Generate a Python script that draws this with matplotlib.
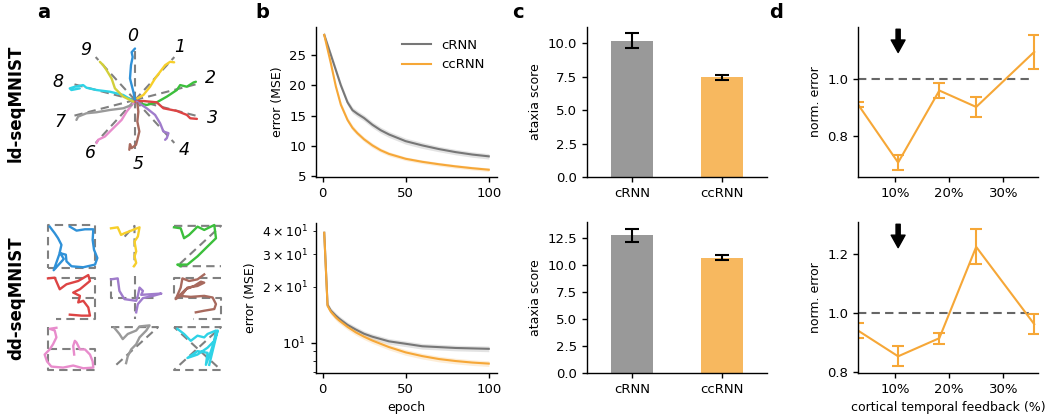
import numpy as np
import matplotlib
matplotlib.use("Agg")
import matplotlib.pyplot as plt
from matplotlib.ticker import FuncFormatter

plt.rcParams["font.family"] = ["DejaVu Sans"]
plt.rcParams["font.size"] = 9
plt.rcParams["axes.linewidth"] = 1.0

GRAY = "#777777"
ORANGE = "#F6A737"
DASH_GRAY = "#808080"

# ---------------- data ----------------
models = ["cRNN", "ccRNN"]

# training curves, ld-seqMNIST
epochs_ld = [1, 5, 8, 11, 15, 18, 21, 25, 30, 35, 40, 50, 60, 70, 80, 90, 100]
crnn_ld = [28.3, 25.0, 22.5, 20.0, 17.2, 15.9, 15.3, 14.6, 13.5, 12.6, 11.9, 10.8, 10.1, 9.5, 9.0, 8.6, 8.3]
ccrnn_ld = [28.3, 23.6, 19.8, 16.8, 14.3, 13.0, 12.1, 11.1, 10.1, 9.3, 8.7, 7.9, 7.4, 7.0, 6.65, 6.35, 6.1]
crnn_ld_sd = [0.5, 0.5, 0.5, 0.5, 0.5, 0.5, 0.5, 0.5, 0.5, 0.5, 0.5, 0.5, 0.5, 0.45, 0.45, 0.45, 0.45]
ccrnn_ld_sd = [0.5, 0.5, 0.5, 0.5, 0.45, 0.45, 0.4, 0.4, 0.4, 0.35, 0.35, 0.3, 0.3, 0.3, 0.3, 0.3, 0.3]

# training curves, dd-seqMNIST
epochs_dd = [1, 3, 5, 8, 10, 15, 20, 25, 30, 40, 50, 60, 70, 80, 90, 100]
crnn_dd = [39.0, 16.0, 14.9, 14.0, 13.5, 12.5, 11.8, 11.2, 10.8, 10.2, 9.9, 9.6, 9.5, 9.4, 9.35, 9.3]
ccrnn_dd = [39.0, 15.8, 14.7, 13.7, 13.2, 12.2, 11.4, 10.8, 10.3, 9.5, 8.9, 8.5, 8.2, 8.0, 7.85, 7.75]
dd_rel_sd = 0.035

# ataxia scores (mean, error)
ataxia_ld = [10.2, 7.45]
ataxia_ld_err = [0.55, 0.22]
ataxia_dd = [12.75, 10.7]
ataxia_dd_err = [0.58, 0.25]

# normalised error vs. fraction of cortical temporal feedback
feedback_pct = [3.2, 10.6, 18.2, 25.0, 35.7]
norm_err_ld = [0.911, 0.706, 0.960, 0.902, 1.096]
norm_err_ld_sd = [0.009, 0.028, 0.028, 0.036, 0.061]
norm_err_dd = [0.940, 0.852, 0.914, 1.226, 0.962]
norm_err_dd_sd = [0.027, 0.034, 0.019, 0.060, 0.034]
best_pct = 10.6

# ld-seqMNIST: digit trajectories (unit radius, y stretched)
digit_colors = ["#2f91d8", "#f7cf2a", "#3cbf3c", "#dd4444", "#a07ccc",
                "#a86a5e", "#e88ccc", "#9a9a9a", "#2fd3e6", "#d2cf3a"]
digit_angles = [90, 54, 18, -18, -54, -90, -126, -162, 162, 126]
ld_traj = [
    [(0, 0), (-0.025, 0.156), (-0.075, 0.406), (-0.06, 0.656), (-0.035, 0.81), (-0.05, 0.9), (0.0, 0.97)],
    [(0.035, 0.03), (0.125, 0.094), (0.225, 0.25), (0.3, 0.406), (0.375, 0.531), (0.45, 0.656), (0.525, 0.72), (0.585, 0.71)],
    [(0.05, -0.06), (0.175, -0.094), (0.325, -0.044), (0.475, 0.063), (0.625, 0.188), (0.675, 0.281), (0.775, 0.25), (0.875, 0.331), (0.91, 0.344)],
    [(0.0, -0.03), (0.125, -0.019), (0.325, -0.044), (0.425, -0.156), (0.625, -0.206), (0.775, -0.281), (0.825, -0.344), (0.925, -0.356)],
    [(0.025, -0.03), (0.175, -0.156), (0.3, -0.281), (0.375, -0.438), (0.425, -0.594), (0.5, -0.625), (0.475, -0.719), (0.45, -0.75)],
    [(0.035, -0.06), (0.05, -0.219), (0.035, -0.406), (0.065, -0.594), (0.035, -0.75), (0.015, -0.844), (-0.05, -0.906), (-0.075, -0.831), (-0.085, -0.938)],
    [(-0.025, -0.06), (-0.125, -0.219), (-0.2, -0.375), (-0.3, -0.5), (-0.375, -0.594), (-0.45, -0.688), (-0.55, -0.75), (-0.575, -0.813)],
    [(-0.05, -0.094), (-0.175, -0.156), (-0.375, -0.188), (-0.575, -0.231), (-0.725, -0.25), (-0.85, -0.313), (-0.875, -0.375)],
    [(-0.05, 0.0), (-0.175, 0.094), (-0.375, 0.156), (-0.575, 0.188), (-0.725, 0.231), (-0.775, 0.281), (-0.9, 0.25), (-0.975, 0.219), (-0.95, 0.188), (-0.825, 0.219)],
    [(-0.025, -0.03), (-0.175, 0.063), (-0.3, 0.219), (-0.35, 0.406), (-0.425, 0.563), (-0.475, 0.656), (-0.525, 0.719)],
]

# dd-seqMNIST: target strokes and drawn trajectories per digit (unit cell)
dd_targets = [
    [[(0, 0), (1, 0), (1, 1), (0, 1), (0, 0)]],
    [[(0.29, 0.73), (0.5, 0.98), (0.5, 0.04)]],
    [[(0, 0.98), (1, 0.98), (0.07, 0.04), (1, 0.04)]],
    [[(0, 0.96), (1, 0.96), (1, 0.0), (0.18, 0.0)], [(0.5, 0.48), (1, 0.48)]],
    [[(0, 0.96), (0, 0.48), (1, 0.48)], [(0.5, 1.0), (0.5, 0.0)]],
    [[(1, 0.96), (0, 0.96), (0, 0.48), (1, 0.48), (1, 0.0), (0.4, 0.0)]],
    [[(0, 1.0), (0, 0.0), (1, 0.0), (1, 0.5), (0, 0.5)]],
    [[(0, 1.0), (1, 1.0), (0.07, 0.08)]],
    [[(0, 1.0), (1, 1.0), (0, 0.0), (1, 0.0), (0, 1.0)]],
]
dd_traj = [
    [(0.464, 0.962), (0.607, 0.869), (0.786, 0.9), (0.964, 0.9), (0.95, 0.654), (0.979, 0.423), (1.05, 0.231), (1.0, 0.077),
     (0.75, 0.015), (0.5, 0.038), (0.393, 0.154), (0.379, 0.308), (0.25, 0.346), (0.121, -0.054), (0.336, 0.208),
     (0.25, 0.362), (0.286, 0.538), (0.214, 0.692), (0.143, 0.808), (0.036, 0.962)],
    [(0.0, 0.923), (0.143, 0.946), (0.214, 0.769), (0.286, 0.808), (0.379, 0.846), (0.5, 0.9), (0.607, 0.946), (0.571, 0.731),
     (0.5, 0.615), (0.536, 0.385), (0.5, 0.269), (0.536, 0.115), (0.486, 0.038)],
    [(0.0, 0.946), (0.143, 0.923), (0.214, 0.692), (0.321, 0.769), (0.5, 0.962), (0.643, 0.885), (0.857, 1.0), (0.893, 0.692),
     (0.714, 0.5), (0.5, 0.269), (0.286, 0.077), (0.071, 0.077), (0.143, 0.038)],
    [(0.0, 0.946), (0.143, 0.962), (0.25, 0.692), (0.393, 0.808), (0.643, 0.885), (0.857, 1.023), (0.893, 0.885), (0.679, 0.692),
     (0.536, 0.615), (0.679, 0.538), (0.643, 0.385), (0.75, 0.423), (0.857, 0.269), (0.893, 0.077), (0.714, 0.077), (0.464, 0.1)],
    [(0.0, 0.923), (0.143, 0.946), (0.179, 0.654), (0.286, 0.462), (0.536, 0.423), (0.571, 0.538), (0.607, 0.731), (0.679, 0.654),
     (0.643, 0.562), (1.071, 0.592), (0.893, 0.538), (0.679, 0.485), (0.571, 0.346), (0.536, 0.154)],
    [(0.643, 1.038), (0.5, 0.923), (0.321, 0.885), (0.179, 0.946), (0.143, 0.731), (0.036, 0.462), (0.179, 0.577), (0.286, 0.731),
     (0.5, 0.769), (0.643, 0.846), (0.571, 0.869), (0.429, 0.769), (0.25, 0.692), (0.107, 0.538), (0.357, 0.515), (0.643, 0.538),
     (0.821, 0.5), (0.893, 0.346), (0.857, 0.231), (0.643, 0.192), (0.464, 0.154)],
    [(0.179, 0.984), (0.036, 0.96), (0.143, 0.92), (0.179, 0.76), (0.107, 0.6), (0.036, 0.48), (-0.071, 0.36), (-0.021, 0.2),
     (0.071, 0.08), (0.321, 0.056), (0.536, 0.104), (0.75, 0.04), (0.964, 0.056), (0.95, 0.2), (0.893, 0.36), (0.786, 0.48),
     (0.679, 0.48), (0.607, 0.64), (0.571, 0.68), (0.536, 0.56), (0.557, 0.36)],
    [(0.071, 0.984), (0.179, 0.84), (0.25, 0.72), (0.357, 0.84), (0.536, 0.92), (0.607, 1.016), (0.821, 1.04), (0.75, 0.92),
     (0.607, 0.76), (0.536, 0.6), (0.429, 0.48), (0.357, 0.32), (0.321, 0.16)],
    [(0.071, 0.96), (0.214, 0.84), (0.357, 0.68), (0.5, 0.8), (0.643, 0.76), (0.714, 0.84), (0.893, 0.92), (0.857, 0.68),
     (0.714, 0.52), (0.5, 0.36), (0.286, 0.28), (0.5, 0.44), (0.714, 0.4), (0.679, 0.12), (0.786, 0.44), (0.929, 0.92),
     (0.821, 0.44), (0.75, 0.12)],
]

# ---------------- figure ----------------
W, H = 1049, 415
fig = plt.figure(figsize=(W / 100, H / 100), dpi=100)


def px_axes(left, top, right, bottom):
    return fig.add_axes([left / W, 1 - bottom / H, (right - left) / W, (bottom - top) / H])


def style(ax):
    ax.spines["top"].set_visible(False)
    ax.spines["right"].set_visible(False)
    ax.tick_params(labelsize=9.5, width=1.0, length=3.5)


# panel a, top: radial centre-out digits
ax = px_axes(48, 31, 222, 169)
ax.set_xlim(-1.3, 1.3)
ax.set_ylim(-1.3, 1.3)
ax.axis("off")
for k, ang in enumerate(digit_angles):
    t = np.deg2rad(ang)
    ax.plot([0, np.cos(t)], [0, np.sin(t)], ls=(0, (4, 2.5)), color=DASH_GRAY, lw=1.5, zorder=1)
for k, tr in enumerate(ld_traj):
    xy = np.array(tr)
    ax.plot(xy[:, 0], xy[:, 1], color=digit_colors[k], lw=1.7, zorder=2, solid_capstyle="round")
for k, ang in enumerate(digit_angles):
    t = np.deg2rad(ang + 2)
    ax.text(1.2 * np.cos(t), 1.2 * np.sin(t), str(k), fontsize=12.5, style="italic",
            ha="center", va="center", clip_on=False)

# panel a, bottom: 3x3 grid of drawn digits
ax = px_axes(48, 225, 221, 370)
dx, dy = 1.34, 1.19
ax.set_xlim(0, 2 * dx + 1)
ax.set_ylim(-2 * dy, 1)
ax.axis("off")
for k in range(9):
    ox, oy = (k % 3) * dx, -(k // 3) * dy
    for stroke in dd_targets[k]:
        s = np.array(stroke)
        ax.plot(s[:, 0] + ox, s[:, 1] + oy, ls=(0, (4, 2.5)), color=DASH_GRAY, lw=1.5, zorder=1, clip_on=False)
    tr = np.array(dd_traj[k])
    ax.plot(tr[:, 0] + ox, tr[:, 1] + oy, color=digit_colors[k], lw=1.7, zorder=2, clip_on=False)

fig.text(16 / W, 1 - 103 / H, "ld-seqMNIST", rotation=90, fontsize=12, fontweight="bold", ha="center", va="center")
fig.text(16 / W, 1 - 298 / H, "dd-seqMNIST", rotation=90, fontsize=12, fontweight="bold", ha="center", va="center")

# panel b: training curves
ax = px_axes(316, 27, 497, 177)
style(ax)
e = np.array(epochs_ld)
for vals, sd, col, lab in [(crnn_ld, crnn_ld_sd, GRAY, "cRNN"), (ccrnn_ld, ccrnn_ld_sd, ORANGE, "ccRNN")]:
    v, s = np.array(vals), np.array(sd)
    ax.fill_between(e, v - s, v + s, color=col, alpha=0.2, lw=0)
    ax.plot(e, v, color=col, lw=1.5, label=lab)
ax.set_ylim(4.9, 29.6)
ax.set_yticks([5, 10, 15, 20, 25])
ax.set_xticks([0, 50, 100])
ax.set_ylabel("error (MSE)", fontsize=9)
ax.legend(frameon=False, fontsize=9.5, loc="upper right", handlelength=2.2)

ax = px_axes(316, 223, 497, 373)
style(ax)
e = np.array(epochs_dd)
for vals, col in [(crnn_dd, GRAY), (ccrnn_dd, ORANGE)]:
    v = np.array(vals)
    ax.fill_between(e, v * (1 - dd_rel_sd), v * (1 + dd_rel_sd), color=col, alpha=0.2, lw=0)
    ax.plot(e, v, color=col, lw=1.5)
ax.set_yscale("log")
ax.set_ylim(6.9, 44)
ax.set_xticks([0, 50, 100])
ax.set_xlabel("epoch", fontsize=9)
ax.set_ylabel("error (MSE)", fontsize=9)

# panel c: ataxia scores
bar_colors = ["gray", ORANGE]
for (top, bottom), vals, errs, ymax, ticks in [
        ((27, 177), ataxia_ld, ataxia_ld_err, 11.23, [0, 2.5, 5, 7.5, 10]),
        ((222, 373), ataxia_dd, ataxia_dd_err, 14.0, [0, 2.5, 5, 7.5, 10, 12.5])]:
    ax = px_axes(587, top, 767, bottom)
    style(ax)
    ax.bar(models, vals, width=0.47, color=bar_colors, alpha=0.8)
    ax.errorbar(models, vals, yerr=errs, fmt="none", ecolor="black", elinewidth=1.5, capsize=5, capthick=1.5)
    ax.set_xlim(-0.5, 1.5)
    ax.set_ylim(0, ymax)
    ax.set_yticks(ticks)
    ax.yaxis.set_major_formatter(FuncFormatter(lambda v, p: f"{v:.1f}"))
    ax.set_ylabel("ataxia score", fontsize=9)

# panel d: feedback sweep
pct_fmt = FuncFormatter(lambda v, p: f"{v:.0f}%")
for (top, bottom), vals, errs, ylim, ticks in [
        ((27, 177), norm_err_ld, norm_err_ld_sd, (0.655, 1.184), [0.8, 1.0]),
        ((222, 373), norm_err_dd, norm_err_dd_sd, (0.795, 1.311), [0.8, 1.0, 1.2])]:
    ax = px_axes(858, top, 1038, bottom)
    style(ax)
    ax.hlines(1.0, feedback_pct[0], feedback_pct[-1], colors="#666666", linestyles=(0, (4, 2.5)), lw=1.5, zorder=1)
    ax.errorbar(feedback_pct, vals, yerr=errs, color=ORANGE, lw=1.5, capsize=4.5, capthick=1.5, zorder=2)
    ax.set_xlim(feedback_pct[0], 36.4)
    ax.set_ylim(*ylim)
    ax.set_yticks(ticks)
    ax.set_xticks([10, 20, 30])
    ax.xaxis.set_major_formatter(pct_fmt)
    ax.set_ylabel("norm. error", fontsize=9)
    ax.annotate("", xy=(best_pct, 0.83), xytext=(best_pct, 0.985),
                xycoords=("data", "axes fraction"), textcoords=("data", "axes fraction"),
                arrowprops=dict(facecolor="black", edgecolor="black", width=3, headwidth=10, headlength=9, shrink=0))
ax.set_xlabel("cortical temporal feedback (%)", fontsize=9)

# panel letters
for x, letter in [(44, "a"), (262, "b"), (518, "c"), (776, "d")]:
    fig.text(x / W, 1 - 12 / H, letter, fontsize=14, fontweight="bold", ha="center", va="center")

fig.savefig("out.png", dpi=100)
